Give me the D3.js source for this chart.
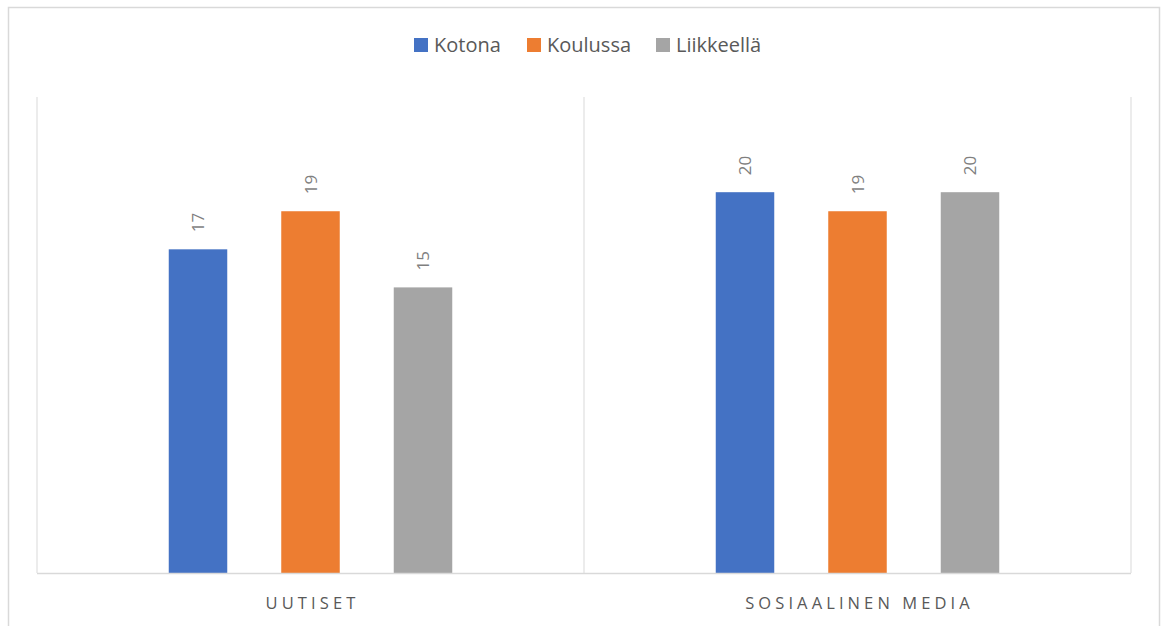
<!DOCTYPE html>
<html>
<head>
<meta charset="utf-8">
<script src="https://cdn.jsdelivr.net/npm/d3@7"></script>
<style>
  body { margin: 0; background: #fff; }
  text { font-family: "Open Sans", "Noto Sans", sans-serif; }
</style>
</head>
<body>
<svg id="chart" width="1162" height="626"></svg>
<script>
var categories = ["UUTISET", "SOSIAALINEN MEDIA"];
var seriesNames = ["Kotona", "Koulussa", "Liikkeellä"];
var kotona = [17, 20];
var koulussa = [19, 19];
var liikkeella = [15, 20];
var colors = ["#4472C4", "#ED7D31", "#A5A5A5"];

var seriesValues = [kotona, koulussa, liikkeella];

var svg = d3.select("#chart");
var plotLeft = 37, plotRight = 1131, plotTop = 97, plotBottom = 573;

// chart border
svg.append("rect")
  .attr("x", 8.5).attr("y", 7.5)
  .attr("width", 1151).attr("height", 640)
  .attr("fill", "none")
  .attr("stroke", "#d9d9d9")
  .attr("stroke-width", 1.5);

var x0 = d3.scaleBand().domain(categories).range([plotLeft, plotRight]).padding(0);
var x1 = d3.scaleBand().domain(seriesNames)
  .range([0, 283.5]).paddingInner(0.48).paddingOuter(0);
var y = d3.scaleLinear().domain([0, 25]).range([plotBottom, plotTop]);

// vertical gridlines
var gridX = [plotLeft].concat(categories.map(function (c) { return x0(c) + x0.bandwidth(); }));
svg.selectAll("line.grid")
  .data(gridX)
  .enter().append("line")
  .attr("class", "grid")
  .attr("x1", function (d) { return d; })
  .attr("x2", function (d) { return d; })
  .attr("y1", plotTop).attr("y2", plotBottom)
  .attr("stroke", "#d9d9d9").attr("stroke-width", 1);

var groupOffset = (x0.bandwidth() - 283.5) / 2;

var groups = svg.selectAll("g.cat")
  .data(categories)
  .enter().append("g")
  .attr("class", "cat")
  .attr("transform", function (c) { return "translate(" + (x0(c) + groupOffset) + ",0)"; });

groups.selectAll("rect")
  .data(function (c, ci) {
    return seriesNames.map(function (s, si) {
      return { s: s, v: seriesValues[si][ci], color: colors[si] };
    });
  })
  .enter().append("rect")
  .attr("x", function (d) { return x1(d.s); })
  .attr("y", function (d) { return y(d.v); })
  .attr("width", x1.bandwidth())
  .attr("height", function (d) { return plotBottom - y(d.v); })
  .attr("fill", function (d) { return d.color; });

groups.selectAll("text.val")
  .data(function (c, ci) {
    return seriesNames.map(function (s, si) {
      return { s: s, v: seriesValues[si][ci] };
    });
  })
  .enter().append("text")
  .attr("class", "val")
  .attr("transform", function (d) {
    return "translate(" + (x1(d.s) + x1.bandwidth() / 2 + 6) + "," + (y(d.v) - 17) + ") rotate(-90)";
  })
  .attr("fill", "#7f7f7f")
  .attr("font-size", 17)
  .text(function (d) { return d.v; });

// baseline
svg.append("line")
  .attr("x1", plotLeft).attr("x2", plotRight)
  .attr("y1", plotBottom + 0.5).attr("y2", plotBottom + 0.5)
  .attr("stroke", "#d9d9d9").attr("stroke-width", 1.5);

// category labels
svg.selectAll("text.catlabel")
  .data(categories)
  .enter().append("text")
  .attr("class", "catlabel")
  .attr("x", function (c) { return x0(c) + x0.bandwidth() / 2 + 2; })
  .attr("y", 609)
  .attr("text-anchor", "middle")
  .attr("fill", "#595959")
  .attr("font-size", 16.5)
  .attr("letter-spacing", 4.1)
  .text(function (c) { return c; });

// legend
var legendX = [414, 527, 656];
var legend = svg.selectAll("g.legend")
  .data(seriesNames)
  .enter().append("g")
  .attr("class", "legend")
  .attr("transform", function (d, i) { return "translate(" + legendX[i] + ",38)"; });

legend.append("rect")
  .attr("width", 14).attr("height", 14)
  .attr("fill", function (d, i) { return colors[i]; });

legend.append("text")
  .attr("x", 20).attr("y", 14)
  .attr("fill", "#595959")
  .attr("font-size", 20)
  .text(function (d) { return d; });
</script>
</body>
</html>
